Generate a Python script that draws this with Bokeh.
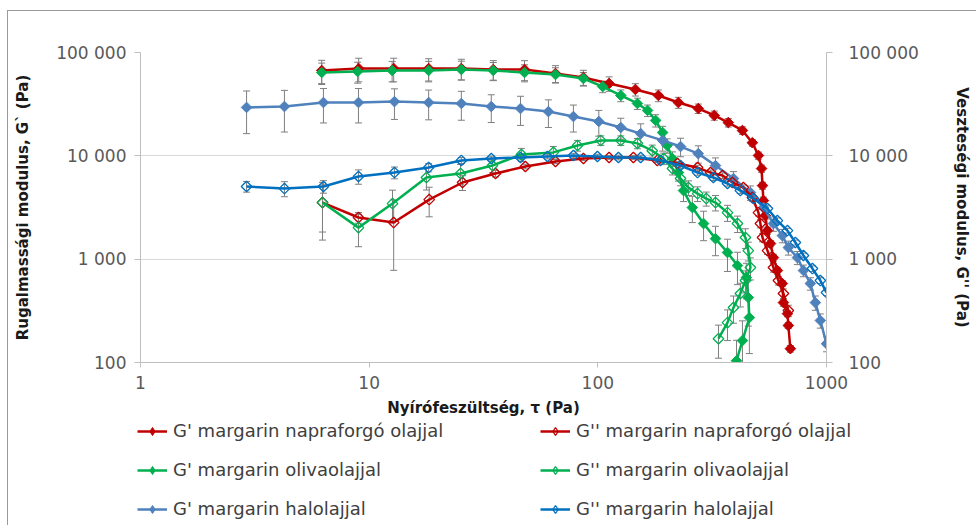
from bokeh.plotting import figure
from bokeh.models import (Range1d, LogAxis, FixedTicker, Whisker, TeeHead,
                          ColumnDataSource, Legend, LegendItem)
from bokeh.embed import file_html
from bokeh.resources import INLINE

# ---------------- data ----------------
x_ticks = [1, 10, 100, 1000]
x_tick_labels = ["1", "10", "100", "1000"]
y_ticks = [100, 1000, 10000, 100000]
y_tick_labels = ["100", "1 000", "10 000", "100 000"]

x_title = "Nyírófeszültség, τ (Pa)"
y_left_title = "Rugalmassági modulus, G` (Pa)"
y_right_title = "Veszteségi modulus, G'' (Pa)"

# G' margarin napraforgó olajjal
nap_gp_x = [6.2, 9.0, 12.8, 18.2, 25.3, 34.9, 47.8, 65.3, 86.5, 112, 146, 184, 225, 275, 323, 372,
            429, 474, 504, 520, 525, 530, 540, 552, 569, 586, 610, 641, 648, 675, 681, 695]
nap_gp_y = [67000, 70000, 70000, 70000, 70000, 68400, 68400, 62600, 57300, 50100, 43900, 38400,
            32800, 28700, 24600, 21000, 17600, 13400, 10070, 7530, 5150, 3690, 2640, 1890, 1415,
            1036, 776, 581, 380, 297, 228, 136]
nap_gp_err = [17000, 18000, 18000, 17000, 16000, 15000, 15000, 12000, 10000, 8000, 6000, 5000,
              4000, 3000, 2500, 2000, 1500, 1000, 800, 600, 400, 300, 200, 150, 100, 80, 60, 40,
              30, 20, 15, 10]

# G' margarin olivaolajjal
oli_gp_x = [6.2, 8.9, 12.6, 18.2, 25.3, 34.9, 47.8, 65.3, 86.5, 105, 126, 149, 165, 179, 192, 201,
            212, 225, 237, 259, 290, 327, 369, 408, 446, 455, 460, 429, 404]
oli_gp_y = [64000, 65500, 67000, 67000, 68400, 67000, 64000, 61200, 56000, 46800, 38400, 32100,
            27500, 22000, 16800, 12600, 9420, 6890, 4610, 3160, 2210, 1580, 1160, 867, 663, 425,
            272, 163, 104]
oli_gp_err = [15000, 15000, 15000, 15000, 14000, 13000, 12000, 10000, 8000, 6000, 5000, 4000,
              3500, 3000, 2500, 2000, 1500, 1200, 1000, 900, 700, 500, 400, 300, 250, 200, 150,
              90, 60]

# G' margarin halolajjal
hal_gp_x = [2.91, 4.26, 6.31, 8.98, 12.9, 18.2, 25.3, 34.2, 45.9, 60.8, 78.2, 101, 126, 154, 192,
            230, 275, 327, 392, 465, 530, 586, 641, 681, 746, 793, 850, 894, 940, 1000]
hal_gp_y = [29400, 30000, 32800, 32800, 33500, 32800, 32100, 30000, 28700, 26800, 24000, 21500,
            18800, 16400, 14100, 12300, 10500, 8050, 6030, 4410, 3160, 2210, 1690, 1295, 1036,
            776, 581, 380, 255, 152]
hal_gp_err = [13000, 13000, 12000, 12000, 11000, 10500, 10000, 9000, 9000, 8000, 7000, 6000,
              4300, 4000, 3000, 2500, 2000, 1500, 1000, 700, 500, 350, 250, 200, 150, 100, 80,
              60, 40, 25]

# G'' margarin napraforgó olajjal
nap_gpp_x = [6.25, 8.98, 12.8, 18.3, 25.6, 35.7, 48.2, 65.3, 86.5, 112, 143, 182, 223, 273, 311,
             351, 388, 433, 474, 504, 514, 525, 552, 586, 616, 648, 681]
nap_gpp_y = [3530, 2530, 2260, 3770, 5520, 6750, 7880, 8810, 9420, 9640, 9640, 9020, 8420, 7700,
             6890, 6440, 5520, 4930, 3950, 2820, 2210, 1620, 1210, 829, 621, 465, 318]
nap_gpp_err = [1700, 300, 1480, 1200, 900, 500, 400, 400, 400, 400, 400, 400, 400, 400, 400, 400,
               400, 300, 300, 200, 200, 150, 100, 80, 60, 50, 40]

# G'' margarin olivaolajjal
oli_gpp_x = [6.25, 8.98, 12.65, 17.8, 25.1, 34.6, 46.3, 63.9, 81.5, 103, 126, 149, 173, 194, 212,
             230, 249, 273, 298, 327, 369, 408, 442, 455, 465, 442, 420, 392, 369, 337]
oli_gpp_y = [3530, 2020, 3450, 6170, 6750, 8060, 10300, 10800, 12600, 14100, 14100, 13200, 11200,
             9420, 7530, 6030, 4930, 4310, 3860, 3530, 2820, 2210, 1620, 1210, 829, 621, 465,
             340, 243, 170]
oli_gpp_err = [2000, 700, 1200, 1500, 1500, 1200, 1500, 1500, 1500, 1500, 1500, 1500, 1500, 1200,
               1000, 900, 800, 700, 600, 600, 500, 400, 350, 250, 200, 150, 120, 100, 80, 60]

# G'' margarin halolajjal
hal_gpp_x = [2.91, 4.26, 6.31, 8.98, 12.9, 18.2, 25.3, 34.2, 45.9, 60.2, 78.2, 99.6, 123, 154,
             188, 230, 273, 320, 369, 420, 479, 552, 610, 675, 731, 793, 868, 940, 1000]
hal_gpp_y = [5050, 4820, 5050, 6310, 6890, 7700, 9020, 9420, 9640, 9850, 10070, 9850, 9640, 9640,
             9020, 8060, 6890, 6170, 5400, 4610, 3860, 3090, 2360, 1890, 1450, 1085, 811, 621, 475]
hal_gpp_err = [600, 800, 700, 1000, 900, 700, 600, 500, 500, 500, 500, 500, 500, 500, 500, 500,
               400, 400, 300, 300, 250, 200, 150, 100, 80, 60, 50, 40, 30]

labels = ["G' margarin napraforgó olajjal", "G' margarin olivaolajjal", "G' margarin halolajjal",
          "G'' margarin napraforgó olajjal", "G'' margarin olivaolajjal", "G'' margarin halolajjal"]

RED = "#C00000"
GREEN = "#00B050"
BLUE1 = "#4F81BD"
BLUE2 = "#0070C0"
ERR = "#7F7F7F"

series = [
    (nap_gp_x, nap_gp_y, nap_gp_err, RED, True),
    (oli_gp_x, oli_gp_y, oli_gp_err, GREEN, True),
    (hal_gp_x, hal_gp_y, hal_gp_err, BLUE1, True),
    (nap_gpp_x, nap_gpp_y, nap_gpp_err, RED, False),
    (oli_gpp_x, oli_gpp_y, oli_gpp_err, GREEN, False),
    (hal_gpp_x, hal_gpp_y, hal_gpp_err, BLUE2, False),
]

FONT = "DejaVu Sans"
TICK_COLOR = "#595959"
BORDER = "1px solid #9a9a9a"

# ---------------- main chart ----------------
p = figure(x_axis_type="log", y_axis_type="log",
           x_range=Range1d(1, 1000), y_range=Range1d(100, 100000),
           frame_width=686, frame_height=310,
           min_border_left=132, min_border_right=150, min_border_top=41, min_border_bottom=56,
           output_backend="svg", toolbar_location=None)
p.styles = {"border-left": BORDER, "border-top": BORDER,
            "margin-left": "7px", "margin-top": "10px"}
p.outline_line_color = None
p.background_fill_color = "white"
p.border_fill_color = "white"

raxis = LogAxis()
p.add_layout(raxis, "right")

p.xaxis.ticker = FixedTicker(ticks=x_ticks)
p.xaxis.major_label_overrides = dict(zip(x_ticks, x_tick_labels))
for ax in p.yaxis:
    ax.ticker = FixedTicker(ticks=y_ticks)
    ax.major_label_overrides = dict(zip(y_ticks, y_tick_labels))

for ax in list(p.xaxis) + list(p.yaxis):
    ax.minor_tick_line_color = None
    ax.axis_line_color = "#BFBFBF"
    ax.major_tick_line_color = "#BFBFBF"
    ax.major_tick_in = 0
    ax.major_label_text_font = FONT
    ax.major_label_text_font_size = "17px"
    ax.major_label_text_color = TICK_COLOR
    ax.axis_label_text_font = FONT
    ax.axis_label_text_font_style = "bold"
    ax.axis_label_text_font_size = "15px"
    ax.axis_label_text_color = "#1A1A1A"

p.xaxis.major_tick_out = 5
p.xaxis.major_label_standoff = 8
p.xaxis.axis_label = x_title
p.xaxis.axis_label_standoff = 7

p.yaxis[0].major_tick_out = 6
p.yaxis[0].major_label_standoff = 8
p.yaxis[0].axis_label = y_left_title
p.yaxis[0].axis_label_standoff = 21

raxis.major_tick_out = 6
raxis.major_label_standoff = 16
raxis.axis_label = y_right_title
raxis.axis_label_standoff = 31

p.xgrid.grid_line_color = None
p.ygrid.grid_line_color = "#D9D9D9"
p.ygrid.grid_line_width = 1

for xs, ys, es, col, filled in series:
    lower = [max(y - e, 1.0) for y, e in zip(ys, es)]
    upper = [y + e for y, e in zip(ys, es)]
    src = ColumnDataSource(dict(x=xs, y=ys, lower=lower, upper=upper))
    w = Whisker(base="x", upper="upper", lower="lower", source=src,
                line_color=ERR, line_width=1,
                upper_head=TeeHead(size=7, line_color=ERR, line_width=1),
                lower_head=TeeHead(size=7, line_color=ERR, line_width=1))
    p.add_layout(w)


def draw(fig, xs, ys, col, filled, marker="square", angle=0.785398, size=7.5):
    src = ColumnDataSource(dict(x=xs, y=ys))
    lr = fig.line("x", "y", source=src, line_color=col, line_width=2.5)
    if filled:
        sr = fig.scatter("x", "y", source=src, marker=marker, angle=angle, size=size,
                         fill_color=col, line_color=col, line_width=1)
    else:
        sr = fig.scatter("x", "y", source=src, marker=marker, angle=angle, size=size,
                         fill_alpha=0, line_color=col, line_width=1.3)
    return [lr, sr]


for xs, ys, es, col, filled in series:
    draw(p, xs, ys, col, filled)

# ---------------- legend strip (separate root, same series styles) ----------------
lg = figure(width=968, height=106, x_range=Range1d(0, 1), y_range=Range1d(0, 1),
            min_border=0, x_axis_location=None, y_axis_location=None,
            output_backend="svg", toolbar_location=None)
lg.styles = {"border-left": BORDER, "margin-left": "7px"}
lg.outline_line_color = None
lg.xgrid.visible = False
lg.ygrid.visible = False
lg.background_fill_color = "white"
lg.border_fill_color = "white"

# the series lie outside this strip's ranges, so only their legend glyphs show
legend_renderers = [draw(lg, xs, ys, col, filled, marker="diamond", angle=0.0, size=12)
                    for xs, ys, es, col, filled in series]


def make_legend(idx, loc):
    items = [LegendItem(label=labels[i], renderers=legend_renderers[i]) for i in idx]
    return Legend(items=items, location=loc, orientation="vertical",
                  label_text_font=FONT, label_text_font_size="18px",
                  label_text_color="#404040", glyph_width=30, glyph_height=20,
                  label_height=20, spacing=18, padding=0, margin=0, label_standoff=6,
                  border_line_color=None, background_fill_alpha=0)


lg.add_layout(make_legend([0, 1, 2], (129, 6)), "center")
lg.add_layout(make_legend([3, 4, 5], (532, 6)), "center")

open("out.html", "w").write(file_html([p, lg], INLINE))
